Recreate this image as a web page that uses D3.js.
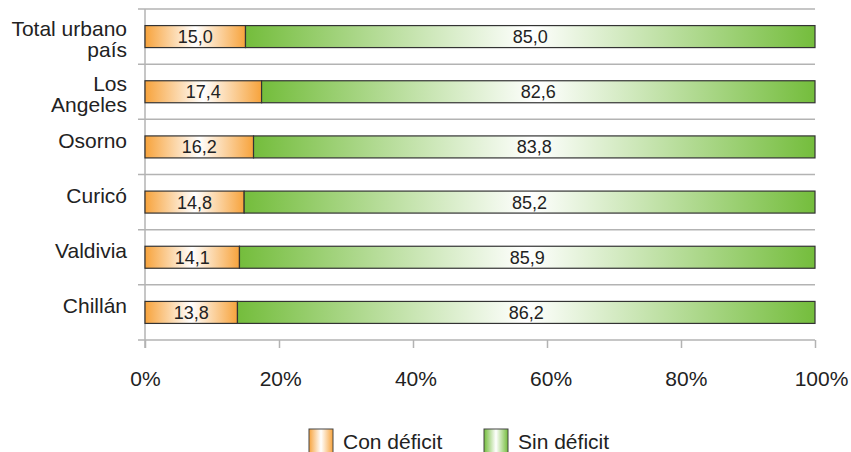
<!DOCTYPE html>
<html lang="en">
<head>
<meta charset="utf-8">
<script src="https://d3js.org/d3.v7.min.js"></script>
<style>
  body { margin: 0; background: #fff; }
  text { font-family: "Liberation Sans", Arial, sans-serif; fill: #222; }
</style>
</head>
<body>
<div id="chart"></div>
<script>
// categories (top to bottom), each label split in lines
var categories = [["Total urbano", "país"], ["Los", "Angeles"], ["Osorno"], ["Curicó"], ["Valdivia"], ["Chillán"]];
var conDeficit = [15.0, 17.4, 16.2, 14.8, 14.1, 13.8];
var sinDeficit = [85.0, 82.6, 83.8, 85.2, 85.9, 86.2];
var xTicks = [0, 20, 40, 60, 80, 100];
var seriesNames = ["Con déficit", "Sin déficit"];

var width = 851, height = 452;
var margin = {top: 9, right: 36, bottom: 112, left: 145};

var svg = d3.select("#chart").append("svg")
    .attr("width", width)
    .attr("height", height);

// gradients: edge colour -> white in the middle -> edge colour
var defs = svg.append("defs");
var colours = ["#f7a33c", "#74bd3c"];
colours.forEach(function(c, i) {
    var g = defs.append("linearGradient").attr("id", "grad" + i)
        .attr("x1", "0%").attr("x2", "100%").attr("y1", "0%").attr("y2", "0%");
    g.append("stop").attr("offset", "0%").attr("stop-color", c);
    g.append("stop").attr("offset", "50%").attr("stop-color", "#ffffff");
    g.append("stop").attr("offset", "100%").attr("stop-color", c);
});

var x = d3.scaleLinear()
    .domain([0, 100])
    .range([margin.left, width - margin.right]);

var band = d3.scaleBand()
    .domain(d3.range(categories.length))
    .range([margin.top, height - margin.bottom]);

// separator lines
svg.append("g")
    .selectAll("line")
    .data(d3.range(categories.length + 1))
    .enter().append("line")
    .attr("x1", margin.left - 7)
    .attr("x2", x(100))
    .attr("y1", d => margin.top + d * band.step())
    .attr("y2", d => margin.top + d * band.step())
    .attr("stroke", "#b3b3b3")
    .attr("stroke-width", 1.5);

var bottomY = margin.top + categories.length * band.step();

// x axis
var xAxis = svg.append("g")
    .attr("transform", `translate(0,${bottomY})`)
    .call(d3.axisBottom(x).tickValues(xTicks).tickSize(8).tickPadding(23).tickFormat(d => d + "%"));
xAxis.select(".domain").remove();
xAxis.selectAll(".tick line").attr("stroke", "#b3b3b3").attr("stroke-width", 1.5);
xAxis.selectAll(".tick text")
    .attr("font-size", 21)
    .attr("dx", d => d * 0.06)
    .attr("font-family", "Liberation Sans, Arial, sans-serif")
    .attr("fill", "#222");

// y axis line
svg.append("line")
    .attr("x1", margin.left).attr("x2", margin.left)
    .attr("y1", margin.top).attr("y2", bottomY + 8)
    .attr("stroke", "#b3b3b3").attr("stroke-width", 1.5);

// category labels
var labelX = 127;
var labels = svg.append("g")
    .selectAll("text")
    .data(categories)
    .enter().append("text")
    .attr("text-anchor", "end")
    .attr("font-size", 21)
    .attr("x", labelX)
    .attr("y", (d, i) => band(i) + band.bandwidth() / 2 + (d.length > 1 ? -0.5 : 1));
labels.selectAll("tspan")
    .data(d => d)
    .enter().append("tspan")
    .attr("x", labelX)
    .attr("dy", (d, i) => i === 0 ? 0 : 21)
    .text(d => d);

// bars
var rows = categories.map((c, i) => ({i: i, segs: [
    {s: 0, x0: 0, x1: conDeficit[i], v: conDeficit[i]},
    {s: 1, x0: conDeficit[i], x1: conDeficit[i] + sinDeficit[i], v: sinDeficit[i]}
]}));

var barH = 22;
var row = svg.append("g").selectAll("g")
    .data(rows)
    .enter().append("g")
    .attr("transform", d => `translate(0,${band(d.i) + band.bandwidth() / 2 - barH / 2})`);

row.selectAll("rect")
    .data(d => d.segs)
    .enter().append("rect")
    .attr("x", d => x(d.x0))
    .attr("width", d => x(d.x1) - x(d.x0))
    .attr("y", 0)
    .attr("height", barH)
    .attr("fill", d => "url(#grad" + d.s + ")")
    .attr("stroke", "#333")
    .attr("stroke-width", 1.2);

row.selectAll("text")
    .data(d => d.segs)
    .enter().append("text")
    .attr("x", d => (x(d.x0) + x(d.x1)) / 2)
    .attr("y", barH / 2 + 6.5)
    .attr("text-anchor", "middle")
    .attr("font-size", 18)
    .text(d => d3.format(".1f")(d.v).replace(".", ","));

// legend
var legendX = [309, 484];
var legend = svg.append("g").selectAll("g")
    .data(seriesNames)
    .enter().append("g")
    .attr("transform", (d, i) => `translate(${legendX[i]},429)`);
legend.append("rect")
    .attr("width", 24).attr("height", 24)
    .attr("fill", (d, i) => "url(#grad" + i + ")")
    .attr("stroke", "#444").attr("stroke-width", 1);
legend.append("text")
    .attr("x", 34).attr("y", 20)
    .attr("font-size", 21)
    .text(d => d);
</script>
</body>
</html>
